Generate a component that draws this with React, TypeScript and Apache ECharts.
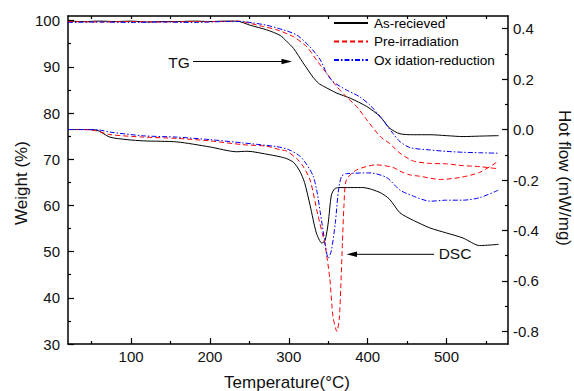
import React, { useEffect, useRef } from "react";
import * as echarts from "echarts";

// Temperature (°C), Weight (%) — TG curves
const tgAsReceived: [number, number][] = [
  [20, 99.9], [40, 99.8], [60, 99.9], [80, 99.8], [100, 99.9], [120, 99.7], [140, 99.8], [160, 99.8],
  [180, 99.9], [200, 99.8], [220, 99.9], [234, 99.9], [251, 99.0], [272, 98.0], [289, 96.8], [298, 95.4],
  [306, 94.0], [318, 90.9], [331, 87.7], [338, 86.4], [344, 85.8], [361, 84.3], [378, 83.2], [399, 81.4],
  [416, 79.2], [428, 76.7], [441, 75.5], [458, 75.3], [479, 75.3], [500, 75.1], [521, 74.9], [542, 75.0], [566, 75.1],
];
const tgPreIrradiation: [number, number][] = [
  [20, 99.8], [60, 99.7], [100, 99.8], [140, 99.7], [180, 99.8], [220, 99.8], [237, 99.9], [251, 99.4],
  [268, 98.7], [285, 98.0], [306, 96.5], [323, 94.3], [335, 91.5], [348, 88.6], [361, 85.7], [373, 83.5],
  [386, 81.4], [399, 78.5], [416, 74.9], [428, 73.4], [441, 71.3], [458, 69.6], [479, 69.1], [500, 69.0],
  [521, 68.6], [542, 68.4], [566, 67.9],
];
const tgOxRed: [number, number][] = [
  [20, 99.6], [60, 99.7], [100, 99.6], [140, 99.7], [180, 99.6], [220, 99.8], [240, 99.8], [255, 99.5],
  [272, 99.0], [293, 98.0], [310, 96.9], [327, 94.3], [340, 91.5], [348, 88.6], [356, 86.8], [373, 85.0],
  [390, 83.5], [403, 81.7], [416, 79.2], [432, 75.6], [441, 73.8], [454, 72.5], [479, 72.0], [500, 71.7],
  [521, 71.5], [542, 71.4], [566, 71.3],
];

// Temperature (°C), Hot flow (mW/mg) — DSC curves
const dscAsReceived: [number, number][] = [
  [20, 0.0], [40, 0.0], [56, -0.002], [73, -0.03], [95, -0.04], [116, -0.045], [158, -0.049], [200, -0.069],
  [234, -0.088], [247, -0.086], [276, -0.1], [289, -0.108], [297, -0.115], [306, -0.13], [314, -0.165],
  [320, -0.21], [327, -0.3], [335, -0.41], [342, -0.45], [346, -0.44], [350, -0.37], [354, -0.26],
  [358, -0.235], [363, -0.23], [394, -0.23], [416, -0.25], [428, -0.277], [441, -0.33], [458, -0.36],
  [479, -0.39], [500, -0.41], [521, -0.43], [542, -0.46], [566, -0.455],
];
const dscPreIrradiation: [number, number][] = [
  [20, 0.0], [40, 0.0], [56, -0.005], [73, -0.02], [116, -0.03], [158, -0.035], [200, -0.045], [242, -0.06],
  [272, -0.066], [289, -0.08], [297, -0.085], [310, -0.115], [318, -0.145], [327, -0.2], [337, -0.34],
  [346, -0.46], [352, -0.59], [356, -0.74], [361, -0.8], [364, -0.75], [366, -0.62], [368, -0.45],
  [370, -0.3], [373, -0.2], [386, -0.16], [411, -0.14], [432, -0.15], [441, -0.165], [454, -0.18],
  [466, -0.185], [492, -0.198], [517, -0.19], [542, -0.17], [566, -0.125],
];
const dscOxRed: [number, number][] = [
  [20, 0.0], [40, 0.0], [60, -0.002], [73, -0.01], [116, -0.025], [158, -0.03], [200, -0.04], [242, -0.053],
  [285, -0.068], [300, -0.08], [314, -0.105], [323, -0.14], [331, -0.185], [336, -0.25], [340, -0.33],
  [346, -0.45], [350, -0.51], [354, -0.48], [359, -0.37], [363, -0.24], [367, -0.185], [373, -0.175],
  [403, -0.172], [424, -0.19], [441, -0.24], [458, -0.264], [479, -0.284], [500, -0.28], [521, -0.28],
  [542, -0.27], [566, -0.24],
];

const seriesNames = ["As-recieved", "Pre-irradiation", "Ox idation-reduction"];
const xMajor = [100, 200, 300, 400, 500];
const xMinor = [50, 150, 250, 350, 450, 550];
const xTop = [50, 100, 150, 200, 250, 300, 350, 400, 450, 500, 550];
const leftMajor = [30, 40, 50, 60, 70, 80, 90, 100];
const leftMinor = [35, 45, 55, 65, 75, 85, 95];
const rightMajor = [-0.8, -0.6, -0.4, -0.2, 0, 0.2, 0.4];
const rightMinor = [-0.7, -0.5, -0.3, -0.1, 0.1, 0.3];

const FONT = '"Liberation Sans", Arial, sans-serif';

export default function App() {
  const ref = useRef<HTMLDivElement>(null);
  useEffect(() => {
    document.body.style.margin = "0";
    const chart = echarts.init(ref.current!, null, { renderer: "svg" });
    const axisLine = { show: true, onZero: false, lineStyle: { color: "#000", width: 1.5 } };
    const noLine = { show: false, onZero: false };
    const tickStyle = { color: "#000", width: 1.2 };
    const styles = [
      { color: "#000000", type: "solid" as any },
      { color: "#ff0000", type: [5, 3] as any },
      { color: "#0000ff", type: [5, 2, 1.5, 2] as any },
    ];
    const mk = (name: string, data: [number, number][], yi: number, s: any) => ({
      type: "line",
      name,
      data,
      xAxisIndex: 0,
      yAxisIndex: yi,
      symbol: "none",
      smooth: 0.25,
      lineStyle: { color: s.color, width: 1, type: s.type },
      itemStyle: { color: s.color },
      z: 3,
    });
    chart.setOption({
      animation: false,
      backgroundColor: "#fff",
      textStyle: { fontFamily: FONT },
      grid: { left: 68, right: 66, top: 16, bottom: 47 },
      legend: {
        data: seriesNames,
        orient: "vertical",
        left: 333,
        top: 16,
        padding: 0,
        itemWidth: 34,
        itemHeight: 14,
        itemGap: 4.5,
        selectedMode: false,
        itemStyle: { opacity: 0 },
        textStyle: { fontSize: 13.5, color: "#000", fontFamily: FONT, padding: [0, 0, 0, 1] },
      },
      xAxis: [
        {
          type: "value", min: 20, max: 578, position: "bottom",
          axisLine,
          axisTick: { show: true, inside: true, length: 6, customValues: xMajor, lineStyle: tickStyle },
          axisLabel: { customValues: xMajor, fontSize: 15, color: "#111", margin: 5, fontFamily: FONT },
          splitLine: { show: false },
        },
        {
          type: "value", min: 20, max: 578, position: "bottom",
          axisLine: noLine,
          axisTick: { show: true, inside: true, length: 3, customValues: xMinor, lineStyle: tickStyle },
          axisLabel: { show: false },
          splitLine: { show: false },
        },
        {
          type: "value", min: 20, max: 578, position: "top",
          axisLine,
          axisTick: { show: true, inside: true, length: 3, customValues: xTop, lineStyle: tickStyle },
          axisLabel: { show: false },
          splitLine: { show: false },
        },
      ],
      yAxis: [
        {
          type: "value", min: 30, max: 101, position: "left",
          axisLine,
          axisTick: { show: true, inside: true, length: 6, customValues: leftMajor, lineStyle: tickStyle },
          axisLabel: { customValues: leftMajor, fontSize: 15, color: "#111", margin: 8, fontFamily: FONT },
          splitLine: { show: false },
        },
        {
          type: "value", min: -0.85, max: 0.45, position: "right",
          axisLine,
          axisTick: { show: true, inside: true, length: 6, customValues: rightMajor, lineStyle: tickStyle },
          axisLabel: {
            customValues: rightMajor, fontSize: 15, color: "#111", margin: 5, fontFamily: FONT,
            formatter: (v: number) => (Math.abs(v) < 1e-9 ? "0.0" : v.toFixed(1)),
          },
          splitLine: { show: false },
        },
        {
          type: "value", min: 30, max: 101, position: "left",
          axisLine: noLine,
          axisTick: { show: true, inside: true, length: 3, customValues: leftMinor, lineStyle: tickStyle },
          axisLabel: { show: false },
          splitLine: { show: false },
        },
        {
          type: "value", min: -0.85, max: 0.45, position: "right",
          axisLine: noLine,
          axisTick: { show: true, inside: true, length: 3, customValues: rightMinor, lineStyle: tickStyle },
          axisLabel: { show: false },
          splitLine: { show: false },
        },
      ],
      series: [
        mk(seriesNames[0], tgAsReceived, 0, styles[0]),
        mk(seriesNames[1], tgPreIrradiation, 0, styles[1]),
        mk(seriesNames[2], tgOxRed, 0, styles[2]),
        mk(seriesNames[0], dscAsReceived, 1, styles[0]),
        mk(seriesNames[1], dscPreIrradiation, 1, styles[1]),
        mk(seriesNames[2], dscOxRed, 1, styles[2]),
      ],
      graphic: [
        {
          type: "text", x: 21, y: 183, rotation: Math.PI / 2,
          style: { text: "Weight (%)", fill: "#111", font: `17px ${FONT}`, textAlign: "center", textVerticalAlign: "middle" },
        },
        {
          type: "text", x: 564, y: 178, rotation: -Math.PI / 2,
          style: { text: "Hot flow (mW/mg)", fill: "#111", font: `17px ${FONT}`, textAlign: "center", textVerticalAlign: "middle" },
        },
        {
          type: "text", x: 287, y: 382,
          style: { text: "Temperature(°C)", fill: "#111", font: `17px ${FONT}`, textAlign: "center", textVerticalAlign: "middle" },
        },
        {
          type: "text", x: 179, y: 62,
          style: { text: "TG", fill: "#111", font: `15.5px ${FONT}`, textAlign: "center", textVerticalAlign: "middle" },
        },
        { type: "line", shape: { x1: 193, y1: 61.5, x2: 284, y2: 61.5 }, style: { stroke: "#000", lineWidth: 1 } },
        { type: "polygon", shape: { points: [[292, 61.5], [281.5, 58.8], [281.5, 64.2]] }, style: { fill: "#000" } },
        {
          type: "text", x: 455, y: 253,
          style: { text: "DSC", fill: "#111", font: `15.5px ${FONT}`, textAlign: "center", textVerticalAlign: "middle" },
        },
        { type: "line", shape: { x1: 434, y1: 254.3, x2: 354, y2: 254.3 }, style: { stroke: "#000", lineWidth: 1 } },
        { type: "polygon", shape: { points: [[346.5, 254.3], [357, 251.6], [357, 257]] }, style: { fill: "#000" } },
      ],
    });
    return () => chart.dispose();
  }, []);
  return <div ref={ref} style={{ width: 574, height: 391 }} />;
}
